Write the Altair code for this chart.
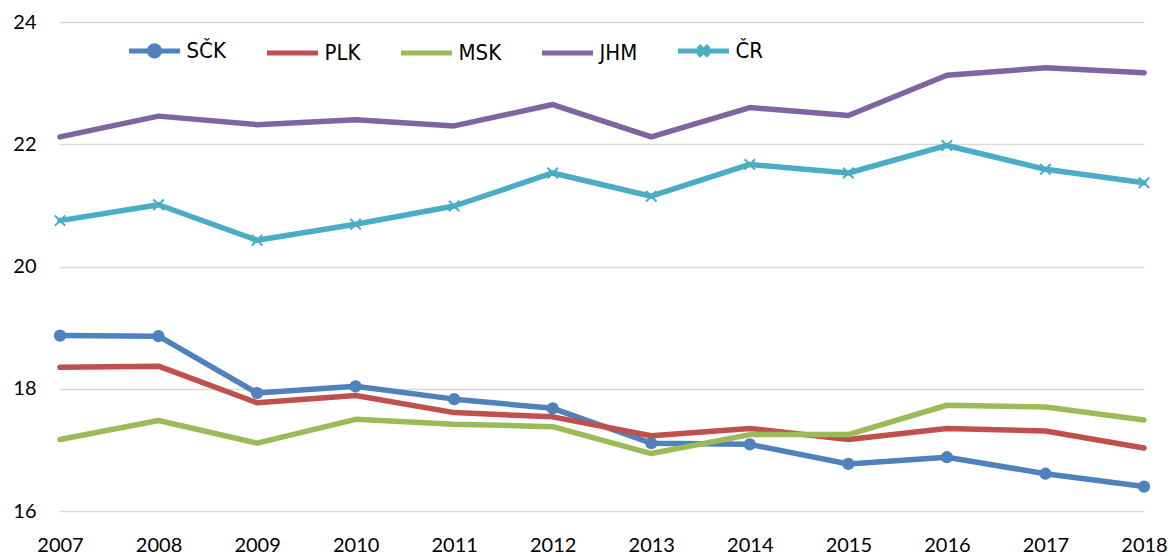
import altair as alt
import pandas as pd

years = list(range(2007, 2019))
series_names = ["SČK", "PLK", "MSK", "JHM", "ČR"]
sck = [18.87, 18.86, 17.93, 18.04, 17.83, 17.68, 17.11, 17.09, 16.77, 16.88, 16.61, 16.40]
plk = [18.35, 18.37, 17.77, 17.89, 17.61, 17.54, 17.23, 17.35, 17.17, 17.35, 17.31, 17.03]
msk = [17.17, 17.48, 17.11, 17.50, 17.42, 17.38, 16.94, 17.25, 17.25, 17.73, 17.70, 17.49]
jhm = [22.12, 22.46, 22.32, 22.40, 22.30, 22.65, 22.12, 22.60, 22.47, 23.13, 23.25, 23.17]
cr = [20.75, 21.01, 20.43, 20.69, 20.99, 21.53, 21.15, 21.67, 21.53, 21.98, 21.59, 21.37]
colors = ["#4F81BD", "#C0504D", "#9BBB59", "#8064A2", "#4BACC6"]
y_ticks = [16, 18, 20, 22, 24]

values = [sck, plk, msk, jhm, cr]
rows = []
for name, vals in zip(series_names, values):
    for yr, v in zip(years, vals):
        rows.append({"year": yr, "series": name, "value": v})
df = pd.DataFrame(rows)

x_enc = alt.X("year:Q",
              scale=alt.Scale(domain=[2007, 2018], nice=False, zero=False),
              axis=alt.Axis(values=years, format="d", grid=False, title=None,
                            labelFlush=False, labelPadding=24))
y_enc = alt.Y("value:Q",
              scale=alt.Scale(domain=[16, 24], nice=False, zero=False),
              axis=alt.Axis(values=y_ticks, title=None, labelPadding=24,
                            gridColor="#D9D9D9", gridWidth=1.5))

base = alt.Chart(df)

X_PATH = "M-1,-1L1,1M-1,1L1,-1"
LINE_PATH = "M-1,0L1,0"
SCK_LEG = "M-1,0L1,0M-0.2,0A0.2,0.2,0,1,0,0.2,0A0.2,0.2,0,1,0,-0.2,0Z"
CR_LEG = "M-1,0L1,0M-0.2,-0.2L0.2,0.2M-0.2,0.2L0.2,-0.2"
legend_shapes = [SCK_LEG, LINE_PATH, LINE_PATH, LINE_PATH, CR_LEG]

layers = []
for name, col in zip(series_names, colors):
    sub = base.transform_filter(alt.datum.series == name)
    layers.append(sub.mark_line(color=col, strokeWidth=5.5, strokeJoin="round",
                                strokeCap="round").encode(x=x_enc, y=y_enc))
    if name == "SČK":
        layers.append(sub.mark_point(filled=True, color=col, size=150, opacity=1,
                                     shape="circle").encode(x=x_enc, y=y_enc))
    if name == "ČR":
        layers.append(sub.mark_point(filled=False, color=col, size=110, opacity=1,
                                     strokeWidth=2, shape=X_PATH).encode(x=x_enc, y=y_enc))

legend_layer = base.mark_point(filled=True, opacity=0).encode(
    x=x_enc, y=y_enc,
    fill=alt.Fill("series:N", scale=alt.Scale(domain=series_names, range=colors),
                  legend=alt.Legend(title=None)),
    stroke=alt.Stroke("series:N", scale=alt.Scale(domain=series_names, range=colors),
                      legend=alt.Legend(title=None)),
    shape=alt.Shape("series:N", scale=alt.Scale(domain=series_names, range=legend_shapes),
                    legend=alt.Legend(title=None)),
)
layers.append(legend_layer)

chart = alt.layer(*layers).properties(
    width=1084, height=489,
    padding={"left": 52, "top": 14, "right": 23, "bottom": 45},
    autosize=alt.AutoSizeParams(type="none"),
).configure_view(stroke=None).configure_axis(
    domain=False, ticks=False, labelFont="Lato", labelFontSize=20, labelColor="#000000",
).configure_legend(
    orient="none", legendX=66.5, legendY=0.5, direction="horizontal",
    symbolSize=2601, symbolStrokeWidth=5, symbolOpacity=1,
    labelFont="DejaVu Sans Condensed, Liberation Sans", labelFontSize=22,
    labelColor="#000000",
    labelOffset=4, columnPadding=30, padding=0, labelLimit=200,
)

chart.save("out.html", embed_options={"renderer": "svg", "actions": False})
